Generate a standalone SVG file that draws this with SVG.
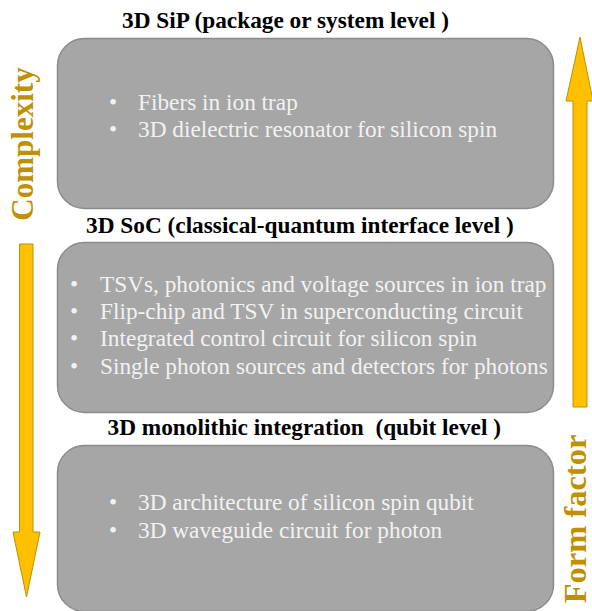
<svg xmlns="http://www.w3.org/2000/svg" width="592" height="611" viewBox="0 0 592 611">
  <style>
    .box { fill: #a6a6a6; stroke: #8c8c8c; stroke-width: 1.5; }
    .title { font-family: "Liberation Serif", "DejaVu Serif", serif; font-weight: bold; font-size: 23.3px; fill: #000000; }
    .item { font-family: "Liberation Serif", "DejaVu Serif", serif; font-size: 23.3px; fill: #f2f2f2; }
    .axis { font-family: "Liberation Serif", "DejaVu Serif", serif; font-weight: bold; font-size: 31px; fill: #bf9000; }
    .arrow { fill: #ffc000; stroke: #bf9000; stroke-width: 1; }
  </style>
  <rect width="592" height="611" fill="#ffffff"/>

  <!-- direction arrows -->
  <g id="connectors">
    <path class="arrow" d="M19.5,244 L33,244 L33,532 L40,532 L26.5,597 L13,532 L19.5,532 Z"/>
    <path class="arrow" d="M573,407 L587,407 L587,101 L593,101 L580,37 L566,101 L573,101 Z"/>
  </g>

  <g id="complexity-label">
    <text class="axis" transform="translate(33,144) rotate(-90)" text-anchor="middle">Complexity</text>
  </g>
  <g id="form-factor-label">
    <text class="axis" transform="translate(586,519) rotate(-90)" text-anchor="middle" style="font-size:32.5px">Form factor</text>
  </g>

  <!-- package / system level -->
  <g id="sip">
    <text class="title" x="122" y="28">3D SiP (package or system level )</text>
    <rect class="box" x="57.5" y="38.5" width="496" height="170" rx="27"/>
    <text class="item" x="109" y="110">•</text>
    <text class="item" x="138" y="110">Fibers in ion trap</text>
    <text class="item" x="109" y="137">•</text>
    <text class="item" x="138" y="137">3D dielectric resonator for silicon spin</text>
  </g>

  <!-- classical-quantum interface level -->
  <g id="soc">
    <text class="title" x="86" y="233">3D SoC (classical-quantum interface level )</text>
    <rect class="box" x="57.5" y="242.5" width="496" height="170" rx="27"/>
    <text class="item" x="70" y="292">•</text>
    <text class="item" x="100" y="292">TSVs, photonics and voltage sources in ion trap</text>
    <text class="item" x="70" y="319">•</text>
    <text class="item" x="100" y="319">Flip-chip and TSV in superconducting circuit</text>
    <text class="item" x="70" y="346">•</text>
    <text class="item" x="100" y="346">Integrated control circuit for silicon spin</text>
    <text class="item" x="70" y="374">•</text>
    <text class="item" x="100" y="374">Single photon sources and detectors for photons</text>
  </g>

  <!-- qubit level -->
  <g id="monolithic">
    <text class="title" x="107.5" y="435" xml:space="preserve">3D monolithic integration  (qubit level )</text>
    <rect class="box" x="57.5" y="445.5" width="496" height="166" rx="27"/>
    <text class="item" x="109" y="510">•</text>
    <text class="item" x="138" y="510">3D architecture of silicon spin qubit</text>
    <text class="item" x="109" y="538">•</text>
    <text class="item" x="138" y="538">3D waveguide circuit for photon</text>
  </g>
</svg>
